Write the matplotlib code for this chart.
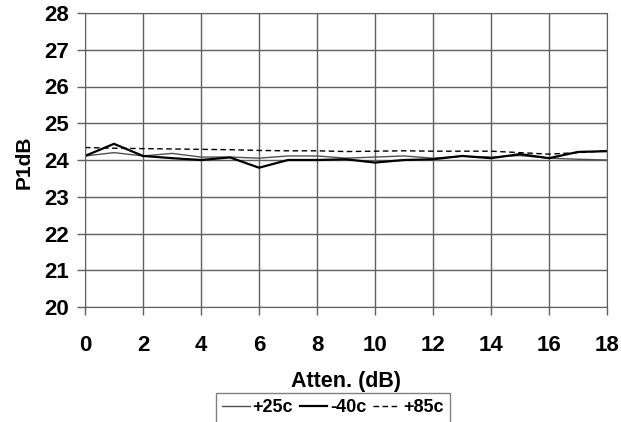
import matplotlib
matplotlib.use("Agg")
import matplotlib.pyplot as plt
import numpy as np

plt.rcParams['font.family'] = ['Liberation Sans', 'DejaVu Sans']
plt.rcParams['font.weight'] = 'bold'

W, H = 621, 422

atten = np.arange(0, 19)
p_25c = [24.11, 24.20, 24.11, 24.18, 24.08, 24.08, 24.05, 24.11, 24.11, 24.05,
         24.08, 24.11, 24.05, 24.10, 24.08, 24.12, 24.05, 24.02, 24.00]
p_m40c = [24.11, 24.44, 24.11, 24.05, 24.00, 24.07, 23.79, 24.00, 24.00, 24.02,
          23.93, 24.00, 24.02, 24.11, 24.05, 24.16, 24.05, 24.22, 24.24]
p_85c = [24.34, 24.32, 24.31, 24.30, 24.29, 24.28, 24.26, 24.25, 24.25, 24.23,
         24.24, 24.25, 24.24, 24.24, 24.24, 24.20, 24.16, 24.20, 24.25]

fig = plt.figure(figsize=(W / 100, H / 100), dpi=100)
# plot area in pixels: left 85, right 607, top 13, bottom 307
ax = fig.add_axes([85 / W, 1 - 307 / H, 522 / W, 294 / H])

ax.plot(atten, p_25c, color='#505050', linewidth=1.0, label='+25c')
ax.plot(atten, p_m40c, color='black', linewidth=1.6, label='-40c')
ax.plot(atten, p_85c, color='black', linewidth=1.0, linestyle=(0, (4, 2.5)), label='+85c')

ax.set_xlim(0, 18)
ax.set_ylim(20, 28)
ax.set_xticks(np.arange(0, 19, 2))
ax.set_yticks(np.arange(20, 29, 1))
ax.grid(True, color='#606060', linewidth=1.0)
ax.set_axisbelow(True)
for s in ax.spines.values():
    s.set_color('#606060')
ax.tick_params(axis='y', length=5.5, width=1, color='#606060', labelsize=16, pad=6)
ax.tick_params(axis='x', length=5.5, width=1, color='#606060', labelsize=16, pad=15)

fig.text(346 / W, 1 - 382 / H, 'Atten. (dB)', ha='center', va='center',
         fontsize=15.5, fontweight='bold')
fig.text(24 / W, 1 - 162 / H, 'P1dB', ha='center', va='center', rotation=90,
         fontsize=15, fontweight='bold')

leg = ax.legend(loc='upper center', bbox_to_anchor=(333 / W, 1 - 393 / H),
                bbox_transform=fig.transFigure, ncol=3,
                frameon=True, fancybox=False, fontsize=13, handlelength=1.5,
                columnspacing=0.4, handletextpad=0.15, borderpad=0.35,
                borderaxespad=0)
leg.get_frame().set_edgecolor('#606060')
leg.get_frame().set_linewidth(1.0)

fig.savefig('out.png', dpi=100)
